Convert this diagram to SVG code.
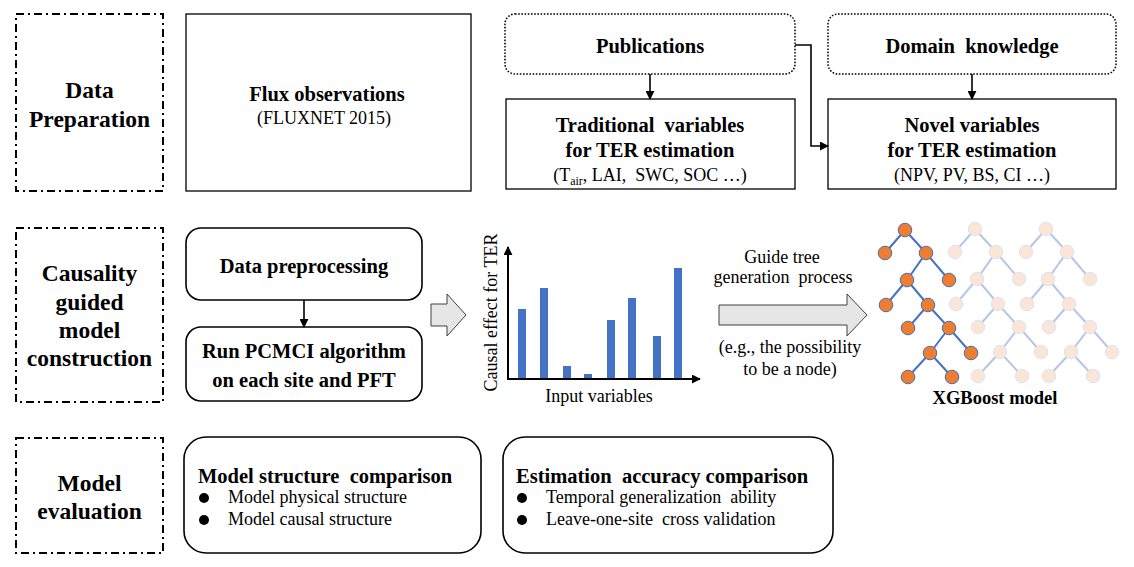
<svg xmlns="http://www.w3.org/2000/svg" xmlns:xlink="http://www.w3.org/1999/xlink" width="1134" height="567" viewBox="0 0 1134 567">
<style>
text{font-family:"Liberation Serif","Times New Roman",serif;fill:#000}
.h{font-weight:bold;font-size:20.5px}
.s{font-weight:bold;font-size:23.5px}
.t{font-size:18px}
.stage{fill:#fff;stroke:#000;stroke-width:2;stroke-dasharray:8 4 2 4}
.box{fill:#fff;stroke:#000;stroke-width:1.3}
.dot{fill:#fff;stroke:#000;stroke-width:1.5;stroke-dasharray:1.6 1.6}
.rbox{fill:#fff;stroke:#000;stroke-width:1.6}
.con{fill:none;stroke:#000;stroke-width:1.6}
.block{fill:#E7E6E6;stroke:#404040;stroke-width:1}
.bar{fill:#4472C4}
</style>
<defs>
<marker id="ah" viewBox="0 0 10 10" refX="9" refY="5" markerWidth="9" markerHeight="9" markerUnits="userSpaceOnUse" orient="auto">
<path d="M0,0 L10,5 L0,10 z" fill="#000"/>
</marker>
<path id="edges" d="M0,0 L-20,23 M0,0 L21,23 M21,23 L2,50 M21,23 L44,50 M2,50 L-19,75 M2,50 L23,75 M23,75 L3,98 M23,75 L44,98 M44,98 L25,123 M44,98 L66,123 M25,123 L3,147 M25,123 L47,147"/>
<g id="nodes">
<circle cx="0" cy="0" r="6.8"/><circle cx="-20" cy="23" r="6.8"/><circle cx="21" cy="23" r="6.8"/>
<circle cx="2" cy="50" r="6.8"/><circle cx="44" cy="50" r="6.8"/><circle cx="-19" cy="75" r="6.8"/>
<circle cx="23" cy="75" r="6.8"/><circle cx="3" cy="98" r="6.8"/><circle cx="44" cy="98" r="6.8"/>
<circle cx="25" cy="123" r="6.8"/><circle cx="66" cy="123" r="6.8"/><circle cx="3" cy="147" r="6.8"/>
<circle cx="47" cy="147" r="6.8"/>
</g>
</defs>
<rect width="1134" height="567" fill="#fff"/>

<g id="stage-data-preparation">
<rect class="stage" x="16" y="14" width="147" height="177"/>
<text class="s" x="89.5" y="98" text-anchor="middle">Data</text>
<text class="s" x="89.5" y="127" text-anchor="middle">Preparation</text>
</g>
<g id="stage-causality">
<rect class="stage" x="16" y="228" width="147" height="174"/>
<text class="s" x="89.5" y="281" text-anchor="middle">Causality</text>
<text class="s" x="89.5" y="309.5" text-anchor="middle">guided</text>
<text class="s" x="89.5" y="338" text-anchor="middle">model</text>
<text class="s" x="89.5" y="366" text-anchor="middle">construction</text>
</g>
<g id="stage-evaluation">
<rect class="stage" x="16" y="438" width="147" height="115"/>
<text class="s" x="89.5" y="491" text-anchor="middle">Model</text>
<text class="s" x="89.5" y="519" text-anchor="middle">evaluation</text>
</g>

<g id="flux">
<rect class="box" x="186" y="14" width="285" height="177"/>
<text class="h" x="327" y="101" text-anchor="middle" font-size="21px">Flux observations</text>
<text class="t" x="324" y="124" text-anchor="middle" font-size="19.5">(FLUXNET 2015)</text>
</g>
<g id="publications">
<rect class="dot" x="505" y="14" width="290" height="60" rx="10"/>
<text class="h" x="650" y="53" text-anchor="middle">Publications</text>
</g>
<g id="domain">
<rect class="dot" x="828" y="14" width="288" height="60" rx="10"/>
<text class="h" x="972" y="53" text-anchor="middle" xml:space="preserve">Domain  knowledge</text>
</g>
<g id="traditional">
<rect class="box" x="506" y="99" width="289" height="90"/>
<text class="h" x="650" y="132" text-anchor="middle" xml:space="preserve">Traditional  variables</text>
<text class="h" x="650" y="157" text-anchor="middle">for TER estimation</text>
<text class="t" x="650" y="181" text-anchor="middle" xml:space="preserve">(T<tspan font-size="12" dy="4">air</tspan><tspan dy="-4">, LAI,  SWC, SOC …)</tspan></text>
</g>
<g id="novel">
<rect class="box" x="828" y="99" width="288" height="90"/>
<text class="h" x="972" y="132" text-anchor="middle">Novel variables</text>
<text class="h" x="972" y="157" text-anchor="middle">for TER estimation</text>
<text class="t" x="972" y="181" text-anchor="middle">(NPV, PV, BS, CI …)</text>
</g>

<g id="preprocessing">
<rect class="rbox" x="186" y="228" width="236" height="72" rx="15"/>
<text class="h" x="304" y="273" text-anchor="middle">Data preprocessing</text>
</g>
<g id="pcmci">
<rect class="rbox" x="186" y="327" width="236" height="74" rx="15"/>
<text class="h" x="304" y="358" text-anchor="middle">Run PCMCI algorithm</text>
<text class="h" x="304" y="387" text-anchor="middle">on each site and PFT</text>
</g>

<g id="chart">
<rect class="bar" x="518" y="309" width="8" height="69"/>
<rect class="bar" x="540" y="288" width="8" height="90"/>
<rect class="bar" x="563" y="366" width="8" height="12"/>
<rect class="bar" x="584" y="374" width="8" height="4"/>
<rect class="bar" x="607" y="320" width="8" height="58"/>
<rect class="bar" x="628" y="298" width="8" height="80"/>
<rect class="bar" x="653" y="336" width="8" height="42"/>
<rect class="bar" x="674" y="268" width="8" height="110"/>
<path d="M508,379 L508,247" fill="none" stroke="#000" stroke-width="2" marker-end="url(#ah)"/>
<path d="M507,379 L700,379" fill="none" stroke="#000" stroke-width="2" marker-end="url(#ah)"/>
<text class="t" transform="translate(497,312.5) rotate(-90)" text-anchor="middle">Causal effect for TER</text>
<text class="t" x="599" y="402" text-anchor="middle">Input variables</text>
</g>

<g id="guide-label">
<text class="t" x="782" y="263" text-anchor="middle">Guide tree</text>
<text class="t" x="783" y="283" text-anchor="middle" xml:space="preserve">generation  process</text>
<text class="t" x="790" y="353" text-anchor="middle">(e.g., the possibility</text>
<text class="t" x="790" y="375" text-anchor="middle">to be a node)</text>
</g>

<g id="xgboost">
<use xlink:href="#edges" transform="translate(975,229)" fill="none" stroke="#B4C7E7" stroke-width="2"/>
<use xlink:href="#edges" transform="translate(1046,229)" fill="none" stroke="#B4C7E7" stroke-width="2"/>
<use xlink:href="#nodes" transform="translate(975,229)" fill="#FBE5D6" stroke="#DCE4F2" stroke-width="1"/>
<use xlink:href="#nodes" transform="translate(1046,229)" fill="#FBE5D6" stroke="#DCE4F2" stroke-width="1"/>
<use xlink:href="#edges" transform="translate(905,230)" fill="none" stroke="#4472C4" stroke-width="2"/>
<use xlink:href="#nodes" transform="translate(905,230)" fill="#ED7D31" stroke="#4A6EB0" stroke-width="1"/>
<text x="995" y="404" text-anchor="middle" font-weight="bold" font-size="18.5px">XGBoost model</text>
</g>

<g id="structure-comparison">
<rect class="rbox" x="184" y="437" width="297" height="116" rx="22"/>
<text class="h" x="198" y="483" xml:space="preserve">Model structure  comparison</text>
<circle cx="204" cy="498" r="5"/>
<text class="t" x="228" y="503">Model physical structure</text>
<circle cx="204" cy="520" r="5"/>
<text class="t" x="228" y="525">Model causal structure</text>
</g>
<g id="accuracy-comparison">
<rect class="rbox" x="503" y="437" width="330" height="116" rx="22"/>
<text class="h" x="516" y="483" xml:space="preserve">Estimation  accuracy comparison</text>
<circle cx="522" cy="498" r="5"/>
<text class="t" x="546" y="503" xml:space="preserve">Temporal generalization  ability</text>
<circle cx="522" cy="520" r="5"/>
<text class="t" x="546" y="525" xml:space="preserve">Leave-one-site  cross validation</text>
</g>

<g id="connectors">
<path class="con" d="M650,74 L650,99" marker-end="url(#ah)"/>
<path class="con" d="M972,74 L972,99" marker-end="url(#ah)"/>
<path class="con" d="M795,45 L811,45 L811,146 L828,146" marker-end="url(#ah)"/>
<path class="con" d="M304,300 L304,327" marker-end="url(#ah)"/>
<path class="block" d="M431,304 L447,304 L447,294 L466,315 L447,336 L447,326 L431,326 Z"/>
<path class="block" d="M719,305 L847,305 L847,294 L867,315 L847,336 L847,325 L719,325 Z"/>
</g>
</svg>
